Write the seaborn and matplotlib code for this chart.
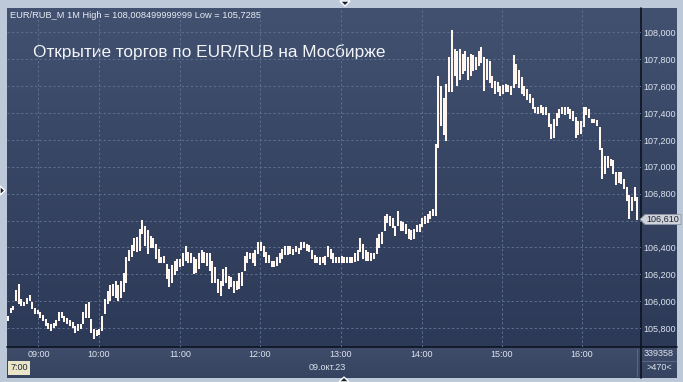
import numpy as np
import pandas as pd
import matplotlib
matplotlib.use("Agg")
import matplotlib.pyplot as plt
import seaborn as sns
from matplotlib.colors import LinearSegmentedColormap
from matplotlib.patches import Rectangle, Polygon

# ---------------- data (2-minute bars, high / low) ----------------
high = [105.88, 105.94, 105.96, 106.08, 106.12, 106.01, 105.99, 106.02, 106.04, 105.99,
        105.94, 105.93, 105.91, 105.89, 105.86, 105.83, 105.82, 105.83, 105.85, 105.91,
        105.91, 105.88, 105.87, 105.85, 105.84, 105.81, 105.82, 105.82, 105.91, 105.97,
        105.99, 105.86, 105.79, 105.78, 105.79, 105.88, 106.01, 106.07, 106.11, 106.12,
        106.14, 106.11, 106.14, 106.20, 106.32, 106.37, 106.41, 106.46, 106.47, 106.53,
        106.60, 106.55, 106.52, 106.48, 106.46, 106.42, 106.38, 106.32, 106.33, 106.27,
        106.23, 106.26, 106.29, 106.31, 106.31, 106.35, 106.40, 106.36, 106.35, 106.32,
        106.31, 106.35, 106.37, 106.36, 106.35, 106.35, 106.29, 106.25, 106.16, 106.14,
        106.23, 106.25, 106.18, 106.17, 106.14, 106.14, 106.20, 106.21, 106.33, 106.36,
        106.35, 106.35, 106.37, 106.43, 106.43, 106.40, 106.36, 106.34, 106.29, 106.29,
        106.32, 106.35, 106.38, 106.40, 106.40, 106.40, 106.38, 106.40, 106.39, 106.43,
        106.43, 106.42, 106.41, 106.37, 106.34, 106.32, 106.32, 106.32, 106.33, 106.40,
        106.38, 106.35, 106.32, 106.32, 106.33, 106.32, 106.32, 106.32, 106.32, 106.35,
        106.37, 106.46, 106.42, 106.37, 106.36, 106.35, 106.35, 106.46, 106.49, 106.51,
        106.63, 106.64, 106.63, 106.61, 106.55, 106.66, 106.59, 106.58, 106.57, 106.53,
        106.52, 106.53, 106.56, 106.57, 106.61, 106.63, 106.64, 106.66, 106.68, 107.16,
        107.67, 107.59, 107.50, 107.61, 107.81, 108.01, 107.87, 107.85, 107.87, 107.83,
        107.85, 107.81, 107.83, 107.82, 107.81, 107.85, 107.88, 107.81, 107.79, 107.78,
        107.67, 107.63, 107.62, 107.59, 107.60, 107.61, 107.60, 107.59, 107.82, 107.76,
        107.71, 107.66, 107.59, 107.57, 107.53, 107.50, 107.44, 107.44, 107.45, 107.44,
        107.44, 107.39, 107.31, 107.35, 107.39, 107.42, 107.44, 107.44, 107.44, 107.42,
        107.41, 107.36, 107.33, 107.33, 107.44, 107.44, 107.42, 107.35, 107.35, 107.34,
        107.29, 107.13, 107.07, 107.07, 107.05, 107.04, 106.95, 106.95, 106.95, 106.90,
        106.84, 106.78, 106.77, 106.84, 106.77]

low = [105.86, 105.92, 105.94, 106.01, 105.99, 105.97, 105.97, 105.99, 106.01, 105.95,
       105.91, 105.91, 105.88, 105.86, 105.82, 105.80, 105.79, 105.81, 105.82, 105.86,
       105.88, 105.85, 105.84, 105.82, 105.81, 105.77, 105.79, 105.80, 105.84, 105.88,
       105.88, 105.77, 105.73, 105.75, 105.76, 105.79, 105.91, 105.99, 106.01, 106.05,
       106.03, 106.01, 106.03, 106.08, 106.14, 106.31, 106.34, 106.38, 106.37, 106.38,
       106.51, 106.42, 106.36, 106.40, 106.40, 106.32, 106.29, 106.29, 106.29, 106.17,
       106.11, 106.14, 106.20, 106.23, 106.26, 106.27, 106.31, 106.29, 106.29, 106.21,
       106.22, 106.25, 106.29, 106.29, 106.27, 106.23, 106.14, 106.14, 106.07, 106.05,
       106.12, 106.14, 106.10, 106.11, 106.07, 106.09, 106.10, 106.12, 106.23, 106.29,
       106.32, 106.29, 106.27, 106.36, 106.38, 106.34, 106.29, 106.29, 106.26, 106.26,
       106.27, 106.29, 106.32, 106.35, 106.35, 106.36, 106.35, 106.37, 106.36, 106.39,
       106.40, 106.38, 106.37, 106.32, 106.29, 106.29, 106.28, 106.29, 106.28, 106.34,
       106.32, 106.29, 106.29, 106.29, 106.29, 106.29, 106.29, 106.29, 106.29, 106.30,
       106.31, 106.37, 106.32, 106.31, 106.31, 106.31, 106.32, 106.36, 106.40, 106.43,
       106.53, 106.59, 106.57, 106.55, 106.49, 106.57, 106.53, 106.53, 106.51, 106.47,
       106.46, 106.47, 106.52, 106.52, 106.56, 106.58, 106.59, 106.62, 106.64, 106.64,
       107.15, 107.31, 107.24, 107.20, 107.56, 107.56, 107.68, 107.61, 107.65, 107.70,
       107.72, 107.65, 107.68, 107.72, 107.73, 107.76, 107.78, 107.57, 107.65, 107.63,
       107.59, 107.55, 107.56, 107.53, 107.55, 107.56, 107.56, 107.54, 107.59, 107.62,
       107.59, 107.55, 107.53, 107.50, 107.48, 107.44, 107.41, 107.40, 107.41, 107.39,
       107.39, 107.30, 107.21, 107.22, 107.31, 107.37, 107.40, 107.39, 107.40, 107.36,
       107.35, 107.22, 107.24, 107.25, 107.30, 107.39, 107.37, 107.33, 107.33, 107.31,
       107.13, 106.92, 106.95, 107.00, 107.01, 106.95, 106.87, 106.89, 106.88, 106.84,
       106.75, 106.62, 106.68, 106.75, 106.61]

hour_labels = ["09:00", "10:00", "11:00", "12:00", "13:00", "14:00", "15:00", "16:00"]
hour_index = [11.3, 33.8, 63.9, 93.7, 123.8, 153.9, 183.6, 213.4]
price_ticks = [105.8, 106.0, 106.2, 106.4, 106.6, 106.8, 107.0, 107.2, 107.4, 107.6, 107.8, 108.0]
last_price = 106.61
header_text = "EUR/RUB_M 1M High = 108,008499999999 Low = 105,7285"
title_text = "Открытие торгов по EUR/RUB на Мосбирже"
date_text = "09.окт.23"
volume_text = "339358"
count_text = ">470<"
session_text = "7:00"

# ---------------- style ----------------
sns.set_style("dark")
plt.rcParams["font.family"] = ["Liberation Sans", "DejaVu Sans"]

W, H = 683, 382
fig = plt.figure(figsize=(W / 100, H / 100), dpi=100)
fig.patch.set_facecolor("#bdc9d9")

def frac(x0, y0, x1, y1):
    return [x0 / W, 1 - y1 / H, (x1 - x0) / W, (y1 - y0) / H]

# background / frame axes in pixel coordinates
bg = fig.add_axes([0, 0, 1, 1])
bg.set_xlim(0, W)
bg.set_ylim(H, 0)
bg.axis("off")
bg.patch.set_alpha(0)

grad = np.linspace(0, 1, 256)[:, None]
cmap = LinearSegmentedColormap.from_list("panel", ["#425170", "#2c3957"])
bg.imshow(grad, cmap=cmap, extent=[7, 677, 347, 8], aspect="auto", zorder=0)
cmap2 = LinearSegmentedColormap.from_list("axis", ["#3f4d6b", "#364462"])
bg.imshow(grad, cmap=cmap2, extent=[7, 677, 378, 347], aspect="auto", zorder=0)

line_col = "#0d1320"
bg.plot([641, 641], [8, 378], color=line_col, lw=1.2, zorder=3)
bg.plot([7, 677], [347, 347], color=line_col, lw=1.2, zorder=3)
bg.plot([637, 637], [349, 376], color="#5b6780", lw=0.8, zorder=3)
bg.plot([642, 676], [361, 361], color="#5b6780", lw=0.8, zorder=3)

txt_col = "#dde4ee"
bg.text(10, 15, header_text, color="#e8edf4", fontsize=6.7, va="center", ha="left", zorder=5)
bg.text(33, 52, title_text, color="#f2f4f8", fontsize=12.4, va="center", ha="left", zorder=5)
bg.text(327, 368, date_text, color=txt_col, fontsize=6.5, va="center", ha="center", zorder=5)
bg.text(659, 354, volume_text, color=txt_col, fontsize=6.5, va="center", ha="center", zorder=5)
bg.text(659, 368, count_text, color=txt_col, fontsize=6.5, va="center", ha="center", zorder=5)

bg.add_patch(Rectangle((8, 361), 22, 14, facecolor="#e9e5c6", edgecolor="none", zorder=4))
bg.text(19, 368, session_text, color="#202838", fontsize=6.5, va="center", ha="center", zorder=5)

# markers on the frame
bg.add_patch(Polygon([[340, 1], [350, 1], [345, 6]], closed=True, facecolor="#1a2232", zorder=5))
bg.add_patch(Polygon([[339, 382], [349, 382], [344, 377]], closed=True, facecolor="#1a2232", zorder=5))
bg.add_patch(Polygon([[0, 186], [0, 195], [5, 190.5]], closed=True, facecolor="#1a2232", zorder=5))

# ---------------- price chart ----------------
ax = fig.add_axes(frac(7, 8, 641, 347))
ax.set_facecolor("none")
idx = np.arange(len(high))
df = pd.DataFrame({
    "bar": np.concatenate([idx, idx]),
    "price": np.concatenate([np.array(low), np.array(high)]),
})
sns.lineplot(data=df, x="bar", y="price", units="bar", estimator=None, sort=False,
             color="#fff6f0", linewidth=1.45, ax=ax, zorder=4,
             solid_capstyle="projecting")

ax.set_xlim(-0.372, 235.32)
ax.set_ylim(105.660, 108.180)
ax.set_xlabel("")
ax.set_ylabel("")
for s in ax.spines.values():
    s.set_visible(False)

ax.set_xticks(hour_index)
ax.set_xticklabels(hour_labels)
ax.set_yticks(price_ticks)
ylabels = []
for p in price_ticks:
    # the tick nearest the current-price marker is covered by it, as in the reference
    ylabels.append("" if abs(p - last_price) < 0.05 else f"{p:.3f}".replace(".", ","))
ax.set_yticklabels(ylabels)
ax.yaxis.tick_right()
ax.tick_params(axis="x", length=0, pad=2.5, labelsize=6.5, labelcolor=txt_col)
ax.tick_params(axis="y", length=0, pad=1.8, labelsize=6.5, labelcolor=txt_col)
ax.grid(True, color="#5d6d8c", linestyle=(0, (2.2, 2.2)), linewidth=0.75)

# current price marker
bg.add_patch(Polygon([[640, 219.5], [645, 214.5], [681, 214.5], [681, 224.5], [645, 224.5]],
                     closed=True, facecolor="#cfd2d8", edgecolor="#8d96a6", lw=0.6, zorder=6))
ax.annotate(f"{last_price:.3f}".replace(".", ","), xy=(1.0, last_price), xycoords=("axes fraction", "data"),
            xytext=(4, 0), textcoords="offset points", color="#1c2333", fontsize=6.5,
            va="center", ha="left", annotation_clip=False, zorder=7)

fig.savefig("out.png", dpi=100, facecolor=fig.get_facecolor())
